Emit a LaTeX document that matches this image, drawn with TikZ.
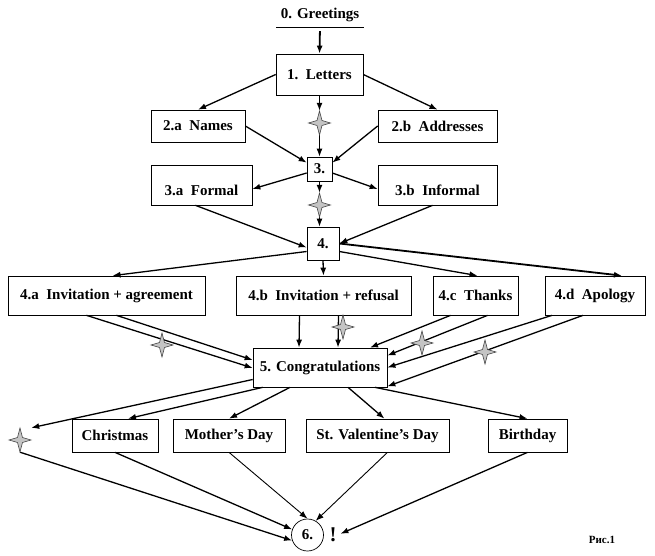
\documentclass[tikz,border=0pt]{standalone}
\usepackage{fontspec}
\setmainfont{Liberation Serif}
\usepackage{tikz}
\usetikzlibrary{arrows.meta, calc}
\definecolor{starfill}{RGB}{196,196,196}
\definecolor{stardark}{RGB}{70,70,70}
\tikzset{
  sparkle/.pic={\filldraw[fill=starfill,draw=stardark,line width=0.6pt]
    (0,-12) -- (2.5,-2.5) -- (11,0) -- (2.5,2.5) -- (0,12) -- (-2.5,2.5) -- (-11,0) -- (-2.5,-2.5) -- cycle;}
}

\begin{document}
\begin{tikzpicture}[x=1pt,y=-1pt,
  font=\fontsize{15}{17}\selectfont\bfseries,
  box/.style={draw,line width=0.7pt,inner sep=0pt},
  lowtext/.style={text height=24pt,text depth=3pt},
  starspot/.style={inner sep=0pt,minimum width=22pt,minimum height=24pt},
  arr/.style={-{Latex[length=8pt,width=6pt]},line width=1.3pt},
  thinarr/.style={-{Latex[length=8pt,width=6pt]},line width=0.9pt}]
\useasboundingbox (0,0) rectangle (655,556);
% Top
\node[minimum width=87pt,minimum height=24pt,inner sep=0pt] (greet) at (320,15) {0. Greetings};
\draw[line width=0.7pt] (greet.south west) -- (greet.south east);
\node[box,minimum width=87pt,minimum height=41pt] (letters) at (319.5,74.5) {1.~~Letters};
\node[box,minimum width=94pt,minimum height=32pt] (names) at (198,126) {2.a~~Names};
\node[box,minimum width=119pt,minimum height=32pt] (addresses) at (437.5,126) {2.b~~Addresses};
\node[starspot] (s1) at (319.5,123) {};
\node[box,minimum width=25pt,minimum height=24pt] (three) at (319.5,169) {3.};
\node[box,lowtext,minimum width=101pt,minimum height=40pt] (formal) at (201.5,185) {3.a~~Formal};
\node[box,lowtext,minimum width=119pt,minimum height=40pt] (informal) at (437.5,185) {3.b~~Informal};
\node[starspot] (s2) at (319.5,205) {};
\node[box,minimum width=32pt,minimum height=33pt] (four) at (323,243.5) {4.};
% Row 4
\node[box,minimum width=197pt,minimum height=39pt] (agree) at (106.5,295.5) {4.a~~Invitation + agreement};
\node[box,minimum width=175pt,minimum height=39pt] (refuse) at (323.5,295.5) {4.b~~Invitation + refusal};
\node[box,minimum width=85pt,minimum height=39pt] (thanks) at (475.5,295.5) {4.c~~Thanks};
\node[box,minimum width=100pt,minimum height=39pt] (apology) at (595,295.5) {4.d~~Apology};
\node[box,minimum width=134pt,minimum height=39pt] (congrats) at (320,367.5) {5. Congratulations};
% Holidays
\node[starspot] (s3) at (20,440) {};
\node[box,minimum width=86pt,minimum height=33pt] (xmas) at (115,435.5) {Christmas};
\node[box,minimum width=112pt,minimum height=33pt] (mother) at (229,435.5) {Mother's Day};
\node[box,minimum width=143pt,minimum height=33pt] (valentine) at (377.5,435.5) {St. Valentine's Day};
\node[box,minimum width=79pt,minimum height=33pt] (birthday) at (527.5,435.5) {Birthday};
\node[draw,circle,line width=0.7pt,minimum size=32pt,inner sep=0pt] (six) at (307.5,535) {6.};
\node[inner sep=1pt,font=\fontsize{21}{23}\selectfont\bfseries] (excl) at (333,535) {!};
\node[font=\fontsize{11}{13}\selectfont\bfseries] (fig) at (602,540) {Рис.1};

% Arrows down to 4
\draw[arr,line width=1.8pt,shorten <=4pt] (greet.south) -- (letters.north);
\draw[arr] (letters.west) -- (names.north);
\draw[arr] (letters.east) -- (addresses.north);
\draw[arr] (letters.south) -- (s1.north);
\draw[arr] (s1.south) -- (three.north);
\draw[arr] (names.east) -- ($(three.north west)+(0,6)$);
\draw[arr] (addresses.west) -- ($(three.north east)+(0,6)$);
\draw[arr] ($(three.west)+(0,4)$) -- ($(formal.east)+(0,4)$);
\draw[arr] ($(three.east)+(0,4)$) -- ($(informal.west)+(0,4)$);
\draw[arr] (three.south) -- (s2.north);
\draw[arr] (s2.south) -- (s2.south |- four.north);
\draw[arr] ($(formal.south)+(-6,0)$) -- ($(four.west)+(0,4)$);
\draw[arr] ($(informal.south)+(-5,0)$) -- (four.east);
% Arrows from 4
\draw[arr] ($(four.west)+(0,8)$) -- ($(agree.north)+(6,0)$);
\draw[arr] (four.south) -- (refuse.north);
\draw[arr] ($(four.east)+(0,8)$) -- ($(thanks.north)+(2,0)$);
\draw[arr,line width=1.8pt] (four.east) -- ($(apology.north)+(27,0)$);
% Arrows to 5
\draw[arr] ($(agree.south)+(-20,0)$) -- ($(congrats.west)+(0,0.5)$);
\draw[arr] ($(agree.south)+(10,0)$) -- ($(congrats.west)+(0,-7.5)$);
\draw[arr] ($(refuse.south)+(-24,0)$) -- ($(congrats.north)+(-21,0)$);
\draw[arr] ($(refuse.south)+(15,0)$) -- ($(congrats.north)+(18,0)$);
\draw[arr] ($(thanks.south)+(-25,0)$) -- ($(congrats.north)+(50,0)$);
\draw[arr] ($(thanks.south)+(12,0)$) -- ($(congrats.east)+(0,-12)$);
\draw[arr] ($(apology.south)+(-43,0)$) -- (congrats.east);
\draw[arr] ($(apology.south)+(-12,0)$) -- ($(congrats.south east)+(0,-1)$);
% Arrows from 5
\draw[arr] ($(congrats.west)+(0,12)$) -- (s3.north east);
\draw[arr] ($(congrats.south west)+(10,0)$) -- ($(xmas.north)+(13,0)$);
\draw[arr] ($(congrats.south)+(-30,0)$) -- (mother.north);
\draw[arr] ($(congrats.south)+(28,0)$) -- ($(valentine.north)+(7,0)$);
\draw[arr] ($(congrats.south)+(55,0)$) -- (birthday.north);
% Arrows to 6
\draw[arr] (s3.south) -- (six.200);
\draw[arr] (xmas.south) -- (six.160);
\draw[thinarr] (mother.south) -- (six.north);
\draw[thinarr] ($(valentine.south)+(10,0)$) -- (six.60);
\draw[arr,shorten >=3pt] (birthday.south) -- (excl.east);
% Stars
\pic at (s1) {sparkle};
\pic at (s2) {sparkle};
\pic at (s3) {sparkle};
\pic at (162,345) {sparkle};
\pic at (343,327) {sparkle};
\pic at (422,343) {sparkle};
\pic at (485,352) {sparkle};
\end{tikzpicture}
\end{document}
